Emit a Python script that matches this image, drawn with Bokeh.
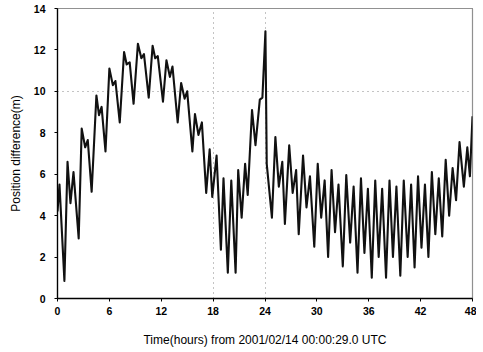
from bokeh.plotting import figure
from bokeh.models import Range1d, FixedTicker
from bokeh.embed import file_html
from bokeh.resources import INLINE

# Time (hours) and position difference (m) (peaks/troughs)
hours = [0, 0.23, 0.8, 1.16, 1.5, 1.85, 2.45, 2.8, 3.2, 3.5, 3.95, 4.5, 4.8, 5.1, 5.55,
         6.0, 6.4, 6.7, 7.2, 7.7, 8.0, 8.35, 8.8, 9.3, 9.7, 10.0, 10.55, 11.0, 11.3, 11.6,
         12.2, 12.6, 13.0, 13.3, 13.9, 14.3, 14.7, 15.0, 15.6, 15.9, 16.3, 16.7, 17.2, 17.6,
         17.9, 18.4, 18.9, 19.2, 19.7, 20.1, 20.6, 20.9, 21.3, 21.7, 22.0, 22.5, 22.9, 23.4,
         23.7, 24.05, 24.2, 24.8, 25.2, 25.6, 26.0, 26.3, 26.8, 27.2, 27.6, 27.9, 28.4, 28.8,
         29.2, 29.7, 30.1, 30.5, 30.9, 31.3, 31.7, 32.1, 32.5, 33.0, 33.4, 33.85, 34.25, 34.7,
         35.1, 35.5, 35.9, 36.35, 36.75, 37.15, 37.55, 38.0, 38.4, 38.8, 39.2, 39.65, 40.05,
         40.5, 40.9, 41.3, 41.7, 42.1, 42.5, 42.9, 43.3, 43.7, 44.1, 44.5, 44.9, 45.3, 45.7,
         46.1, 46.5, 47.0, 47.4, 47.7, 48.0]
pos_diff = [4.2, 5.5, 0.85, 6.6, 4.6, 6.1, 2.9, 8.2, 7.3, 7.65, 5.15, 9.8, 8.85, 9.25, 7.1,
            11.1, 10.3, 10.5, 8.5, 11.9, 11.3, 11.4, 9.4, 12.3, 11.6, 11.8, 9.7, 12.2, 11.6, 11.7,
            9.5, 11.5, 10.7, 11.2, 8.5, 10.4, 9.65, 10.0, 7.1, 8.9, 7.9, 8.5, 5.1, 7.2,
            4.9, 6.9, 2.35, 5.8, 1.25, 5.7, 1.25, 6.2, 3.9, 6.5, 5.0, 9.1, 7.4, 9.6,
            9.7, 12.9, 6.5, 3.9, 7.8, 5.4, 6.6, 3.6, 7.4, 5.1, 6.2, 3.1, 6.9, 4.4,
            5.9, 2.5, 6.5, 3.9, 5.7, 2.0, 6.2, 3.2, 5.5, 1.55, 5.96, 2.7, 5.4, 1.25,
            5.8, 2.2, 5.3, 1.0, 5.7, 2.0, 5.3, 1.0, 5.7, 2.0, 5.4, 1.1, 5.7,
            2.0, 5.5, 1.5, 5.9, 2.45, 5.5, 2.0, 6.1, 3.1, 5.8, 3.0, 6.7, 4.0, 6.3,
            4.75, 7.55, 5.4, 7.3, 5.9, 8.8]

x_ticks = [0, 6, 12, 18, 24, 30, 36, 42, 48]
y_ticks = [0, 2, 4, 6, 8, 10, 12, 14]

p = figure(width=476, height=349, output_backend="svg", toolbar_location=None,
           x_range=Range1d(0, 48), y_range=Range1d(0, 14),
           min_border_left=57, min_border_right=4, min_border_top=8, min_border_bottom=50)
p.background_fill_color = "white"
p.border_fill_color = "white"
p.outline_line_color = "#222222"
p.outline_line_dash = "1 1"
p.outline_line_width = 1.2

p.line(hours, pos_diff, line_color="#111111", line_width=2.1, line_join="round")

for ax in (p.xaxis[0], p.yaxis[0]):
    ax.axis_line_color = "black"
    ax.axis_line_width = 1.3
    ax.major_tick_out = 3
    ax.major_tick_in = 0
    ax.minor_tick_line_color = None
    ax.major_label_text_font = "Liberation Sans"
    ax.major_label_text_font_style = "bold"
    ax.major_label_text_font_size = "10.5px"
    ax.major_label_text_color = "black"
    ax.axis_label_text_font = "Liberation Sans"
    ax.axis_label_text_font_style = "normal"
    ax.axis_label_text_font_size = "12px"
    ax.axis_label_text_color = "black"

p.xaxis[0].ticker = FixedTicker(ticks=x_ticks)
p.yaxis[0].ticker = FixedTicker(ticks=y_ticks)
p.xaxis[0].axis_label = "Time(hours) from 2001/02/14 00:00:29.0 UTC"
p.yaxis[0].axis_label = "Position difference(m)"
p.xaxis[0].major_label_standoff = 5
p.xaxis[0].axis_label_standoff = 15
p.yaxis[0].major_label_standoff = 9
p.yaxis[0].axis_label_standoff = 8

p.xgrid.ticker = FixedTicker(ticks=[18, 24])
p.ygrid.ticker = FixedTicker(ticks=[10])
p.grid.grid_line_color = "#888888"
p.grid.grid_line_dash = "1 4"
p.grid.grid_line_width = 1

open("out.html", "w").write(file_html(p, INLINE))
